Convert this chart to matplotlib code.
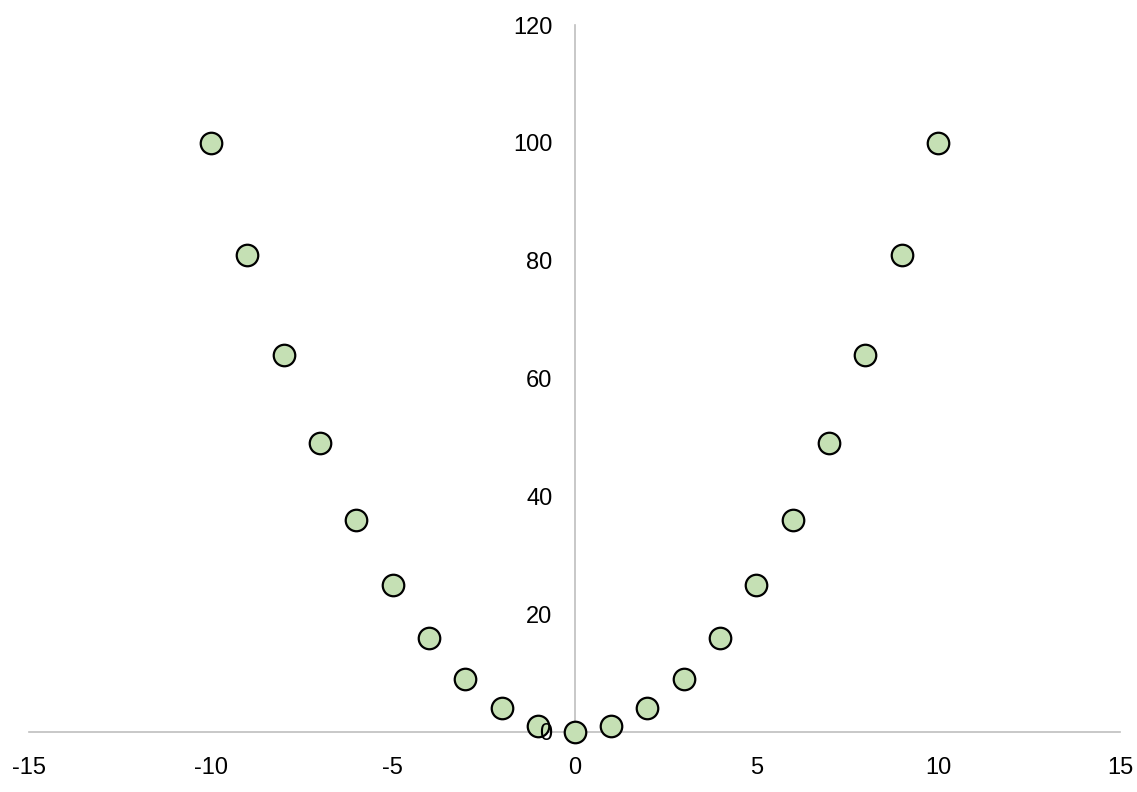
import matplotlib
matplotlib.use("Agg")
import matplotlib.pyplot as plt

# ── Data ──────────────────────────────────────────────────────────────────────
x_vals = [-10, -9, -8, -7, -6, -5, -4, -3, -2, -1, 0, 1, 2, 3, 4, 5, 6, 7, 8, 9, 10]
y_vals = [100, 81, 64, 49, 36, 25, 16, 9, 4, 1, 0, 1, 4, 9, 16, 25, 36, 49, 64, 81, 100]
x_ticks = [-15, -10, -5, 0, 5, 10, 15]
y_ticks = [0, 20, 40, 60, 80, 100, 120]

# ── Style ─────────────────────────────────────────────────────────────────────
C_FILL = "#C5E0B4"
C_AXIS = "#BFBFBF"
plt.rcParams["font.family"] = ["Liberation Sans", "DejaVu Sans"]
plt.rcParams["axes.unicode_minus"] = False

fig = plt.figure(figsize=(11.37, 7.92), dpi=100)
ax = fig.add_axes([29 / 1137, 1 - 732 / 792, 1091 / 1137, 707 / 792])

ax.plot(x_vals, y_vals, linestyle="none", marker="o", markersize=15.5,
        markerfacecolor=C_FILL, markeredgecolor="black", markeredgewidth=1.6,
        clip_on=False, zorder=3)

ax.set_xlim(-15, 15)
ax.set_ylim(0, 120)
ax.set_xticks(x_ticks)
ax.set_yticks(y_ticks)

# axes crossing at origin
for side in ["top", "right"]:
    ax.spines[side].set_visible(False)
ax.spines["left"].set_position(("data", 0))
ax.spines["bottom"].set_position(("data", 0))
for side in ["left", "bottom"]:
    ax.spines[side].set_color(C_AXIS)
    ax.spines[side].set_linewidth(1.2)
    ax.spines[side].set_zorder(1)

ax.tick_params(axis="both", length=0, labelsize=17, colors="black")
ax.tick_params(axis="x", pad=18)
ax.tick_params(axis="y", pad=16)
ax.yaxis.set_zorder(4)   # "0" label sits on top of the marker, like the original

plt.savefig("out.png", dpi=100)
plt.close()
